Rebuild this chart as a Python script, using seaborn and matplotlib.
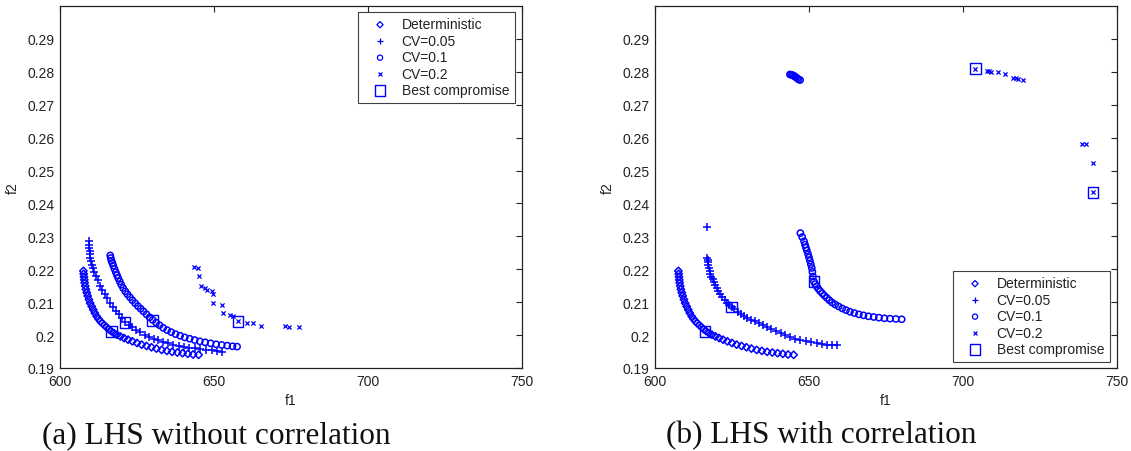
import numpy as np
import pandas as pd
import matplotlib
matplotlib.use("Agg")
import matplotlib.pyplot as plt
import seaborn as sns

# ---------------------------------------------------------------- data
# Deterministic Pareto front (identical in both panels)
det_f1 = [607.6, 607.7, 607.8, 607.9, 608.0, 608.2, 608.4, 608.7, 609.0, 609.4,
          609.8, 610.3, 610.8, 611.3, 611.9, 612.5, 613.1, 613.7, 614.4, 615.1,
          615.8, 616.6, 617.5, 618.5, 619.6, 620.8, 622.1, 623.5, 625.0, 626.5,
          628.1, 629.7, 631.3, 633.0, 634.7, 636.4, 638.1, 639.8, 641.5, 643.2, 645.0]
det_f2 = [0.2195, 0.2186, 0.2177, 0.2168, 0.2159, 0.2149, 0.2139, 0.2129, 0.2119, 0.2108,
          0.2097, 0.2087, 0.2077, 0.2067, 0.2057, 0.2049, 0.2042, 0.2036, 0.2030, 0.2024,
          0.2018, 0.2012, 0.2006, 0.2001, 0.1996, 0.1991, 0.1986, 0.1981, 0.1976, 0.1971,
          0.1967, 0.1963, 0.1959, 0.1955, 0.1952, 0.1949, 0.1947, 0.1945, 0.1943, 0.1941, 0.1940]

# (a) LHS without correlation
a_cv05_f1 = [609.4, 609.5, 609.5, 609.6, 609.7, 609.9, 610.1, 610.4, 610.8, 611.2,
             611.7, 612.3, 613.0, 613.7, 614.5, 615.3, 616.2, 617.1, 618.1, 619.1,
             620.1, 621.1, 622.3, 623.5, 624.8, 626.1, 627.5, 628.9, 630.4, 631.9,
             633.5, 635.1, 636.8, 638.5, 640.2, 642.0, 643.8, 645.6, 647.4, 649.2,
             651.0, 652.6]
a_cv05_f2 = [0.2285, 0.2275, 0.2265, 0.2255, 0.2245, 0.2235, 0.2224, 0.2214, 0.2204, 0.2193,
             0.2181, 0.2168, 0.2150, 0.2138, 0.2125, 0.2112, 0.2098, 0.2086, 0.2074, 0.2063,
             0.2052, 0.2041, 0.2032, 0.2024, 0.2016, 0.2008, 0.2001, 0.1995, 0.1989, 0.1984,
             0.1979, 0.1975, 0.1971, 0.1968, 0.1965, 0.1962, 0.1960, 0.1958, 0.1956, 0.1954,
             0.1952, 0.1950]

a_cv10_f1 = [616.3, 616.5, 616.7, 617.0, 617.3, 617.7, 618.1, 618.5, 618.9, 619.4,
             619.9, 620.5, 621.2, 621.9, 622.7, 623.5, 624.4, 625.3, 626.2, 627.1,
             628.1, 629.1, 630.1, 631.2, 632.3, 633.5, 634.8, 636.1, 637.5, 639.0,
             640.5, 642.1, 643.7, 645.4, 647.1, 648.9, 650.7, 652.5, 654.3, 656.0, 657.5]
a_cv10_f2 = [0.2242, 0.2234, 0.2226, 0.2219, 0.2211, 0.2201, 0.2191, 0.2182, 0.2173, 0.2163,
             0.2153, 0.2143, 0.2133, 0.2124, 0.2115, 0.2106, 0.2097, 0.2088, 0.2080, 0.2072,
             0.2063, 0.2054, 0.2046, 0.2038, 0.2030, 0.2022, 0.2015, 0.2009, 0.2003, 0.1998,
             0.1993, 0.1989, 0.1985, 0.1981, 0.1978, 0.1975, 0.1972, 0.1970, 0.1968, 0.1966, 0.1965]

a_cv20_f1 = [643.6, 644.7, 645.0, 645.7, 647.2, 647.6, 649.4, 649.6, 649.6, 652.6,
             653.0, 655.2, 656.3, 657.8, 660.8, 662.6, 665.3, 673.2, 674.5, 677.5]
a_cv20_f2 = [0.2208, 0.2203, 0.2180, 0.2150, 0.2144, 0.2136, 0.2134, 0.2125, 0.2096, 0.2090,
             0.2068, 0.2062, 0.2058, 0.2042, 0.2038, 0.2036, 0.2029, 0.2029, 0.2026, 0.2026]

a_best_f1 = [616.8, 621.1, 630.1, 657.8]
a_best_f2 = [0.2010, 0.2038, 0.2045, 0.2042]

# (b) LHS with correlation
b_cv05_f1 = [616.8, 617.0, 617.1, 617.2, 617.3, 617.5, 617.7, 618.0, 618.3, 618.7,
             619.1, 619.5, 620.0, 620.6, 621.2, 621.9, 622.6, 623.3, 624.1, 624.9,
             625.8, 626.8, 627.8, 628.9, 630.0, 631.2, 632.4, 633.7, 635.0, 636.4,
             637.8, 639.3, 640.8, 642.3, 643.9, 645.5, 647.2, 648.9, 650.7, 652.5,
             654.3, 656.0, 657.6, 659.0]
b_cv05_f2 = [0.2329, 0.2235, 0.2228, 0.2221, 0.2214, 0.2205, 0.2196, 0.2187, 0.2178, 0.2169,
             0.2160, 0.2151, 0.2142, 0.2133, 0.2124, 0.2115, 0.2107, 0.2099, 0.2092, 0.2085,
             0.2078, 0.2071, 0.2065, 0.2059, 0.2053, 0.2047, 0.2042, 0.2036, 0.2031, 0.2024,
             0.2018, 0.2012, 0.2006, 0.2000, 0.1994, 0.1989, 0.1985, 0.1981, 0.1978, 0.1975,
             0.1973, 0.1971, 0.1970, 0.1969]

b_cv10_f1 = [643.8, 644.2, 644.6, 645.0, 645.4, 645.8, 646.2, 646.6, 647.1,
             647.2, 647.8, 648.4, 648.7, 649.0, 649.3, 649.7, 650.0, 650.3, 650.6,
             650.9, 651.1, 651.3, 651.6, 652.0, 652.5, 653.0, 653.6, 654.3, 655.0,
             655.8, 656.6, 657.5, 658.5, 659.6, 660.8, 662.0, 663.3, 664.7, 666.2,
             667.7, 669.3, 671.0, 672.7, 674.5, 676.3, 678.2, 680.1]
b_cv10_f2 = [0.2792, 0.2791, 0.2790, 0.2788, 0.2786, 0.2783, 0.2780, 0.2777, 0.2775,
             0.2310, 0.2298, 0.2285, 0.2275, 0.2266, 0.2257, 0.2246, 0.2236, 0.2226, 0.2215,
             0.2204, 0.2192, 0.2178, 0.2163, 0.2155, 0.2148, 0.2141, 0.2134, 0.2127, 0.2120,
             0.2113, 0.2106, 0.2099, 0.2093, 0.2087, 0.2081, 0.2076, 0.2071, 0.2067, 0.2063,
             0.2060, 0.2057, 0.2055, 0.2053, 0.2051, 0.2050, 0.2049, 0.2048]

b_cv20_f1 = [704.0, 707.7, 708.3, 709.0, 711.5, 713.6, 716.3, 717.2, 718.0, 719.4,
             738.6, 740.0, 742.2, 742.2]
b_cv20_f2 = [0.2810, 0.2803, 0.2801, 0.2798, 0.2798, 0.2792, 0.2782, 0.2780, 0.2779, 0.2775,
             0.2582, 0.2580, 0.2524, 0.2434]

b_best_f1 = [616.2, 624.9, 651.6, 704.0, 742.2]
b_best_f2 = [0.2010, 0.2085, 0.2163, 0.2810, 0.2434]

series_names = ["Deterministic", "CV=0.05", "CV=0.1", "CV=0.2", "Best compromise"]
x_ticks = [600, 650, 700, 750]
y_ticks = [0.19, 0.20, 0.21, 0.22, 0.23, 0.24, 0.25, 0.26, 0.27, 0.28, 0.29]
y_tick_labels = ["0.19", "0.2", "0.21", "0.22", "0.23", "0.24",
                 "0.25", "0.26", "0.27", "0.28", "0.29"]
captions = ["(a) LHS without correlation", "(b) LHS with correlation"]


def frame(parts):
    rows = []
    for name, f1, f2 in parts:
        rows.append(pd.DataFrame({"f1": f1, "f2": f2, "series": name}))
    return pd.concat(rows, ignore_index=True)


df_a = frame([
    ("Deterministic", det_f1, det_f2),
    ("CV=0.05", a_cv05_f1, a_cv05_f2),
    ("CV=0.1", a_cv10_f1, a_cv10_f2),
    ("CV=0.2", a_cv20_f1, a_cv20_f2),
    ("Best compromise", a_best_f1, a_best_f2),
])
df_b = frame([
    ("Deterministic", det_f1, det_f2),
    ("CV=0.05", b_cv05_f1, b_cv05_f2),
    ("CV=0.1", b_cv10_f1, b_cv10_f2),
    ("CV=0.2", b_cv20_f1, b_cv20_f2),
    ("Best compromise", b_best_f1, b_best_f2),
])

# ---------------------------------------------------------------- style
sns.set_style("white")
plt.rcParams["font.family"] = ["Liberation Sans", "DejaVu Sans"]

BLUE = "#0000ff"
marker_style = {
    "Deterministic": dict(marker="D", s=14, facecolor="none", edgecolor=BLUE, linewidth=1.1),
    "CV=0.05": dict(marker="+", s=30, color=BLUE, linewidth=1.1),
    "CV=0.1": dict(marker="o", s=20, facecolor="none", edgecolor=BLUE, linewidth=1.1),
    "CV=0.2": dict(marker="x", s=9, color=BLUE, linewidth=0.9),
    "Best compromise": dict(marker="s", s=60, facecolor="none", edgecolor=BLUE, linewidth=1.0),
}
legend_sizes = {"Deterministic": 10, "CV=0.05": 20, "CV=0.1": 14, "CV=0.2": 8,
                "Best compromise": 60}

fig = plt.figure(figsize=(11.31, 4.52), dpi=100)
W, H = 1131, 452
ax_a = fig.add_axes([60 / W, 1 - 369 / H, 462 / W, 362 / H])
ax_b = fig.add_axes([655 / W, 1 - 369 / H, 462 / W, 362 / H])


def draw(ax, df, legend_loc, legend_anchor):
    for name in series_names:
        sub = df[df["series"] == name]
        sns.scatterplot(data=sub, x="f1", y="f2", ax=ax, label=name,
                        legend=False, zorder=3, **marker_style[name])
    ax.set_xlim(600, 750)
    ax.set_ylim(0.19, 0.30)
    ax.set_xticks(x_ticks)
    ax.set_xticklabels([str(t) for t in x_ticks])
    ax.set_yticks(y_ticks)
    ax.set_yticklabels(y_tick_labels)
    ax.tick_params(direction="in", top=True, right=True, length=4, width=0.8,
                   labelsize=10, pad=4, colors="#222222")
    for sp in ax.spines.values():
        sp.set_color("#222222")
        sp.set_linewidth(0.9)
    ax.set_xlabel("f1", fontsize=10, labelpad=4, color="#222222")
    ax.set_ylabel("f2", fontsize=10, labelpad=5, color="#222222")
    handles, labels = ax.get_legend_handles_labels()
    leg = ax.legend(handles, labels, loc=legend_loc, bbox_to_anchor=legend_anchor,
                    fontsize=10, frameon=True, fancybox=False, framealpha=1,
                    borderpad=0.4, handlelength=2.4, handletextpad=0.35,
                    labelspacing=0.18, borderaxespad=0.0)
    for h, name in zip(leg.legend_handles, labels):
        h.set_sizes([legend_sizes[name]])
        if name != "Best compromise":
            h.set_linewidth(0.9)
    leg.get_frame().set_edgecolor("#404040")
    leg.get_frame().set_linewidth(0.8)
    for t in leg.get_texts():
        t.set_color("#222222")


draw(ax_a, df_a, "upper right", (0.984, 0.984))
draw(ax_b, df_b, "lower right", (0.984, 0.017))

fig.text(216 / W, 1 - 436 / H, captions[0], ha="center", va="center",
         fontsize=22.5, family="Liberation Serif", color="#111111")
fig.text(821 / W, 1 - 436 / H, captions[1], ha="center", va="center",
         fontsize=22.5, family="Liberation Serif", color="#111111")

fig.savefig("out.png", dpi=100, facecolor="white")
